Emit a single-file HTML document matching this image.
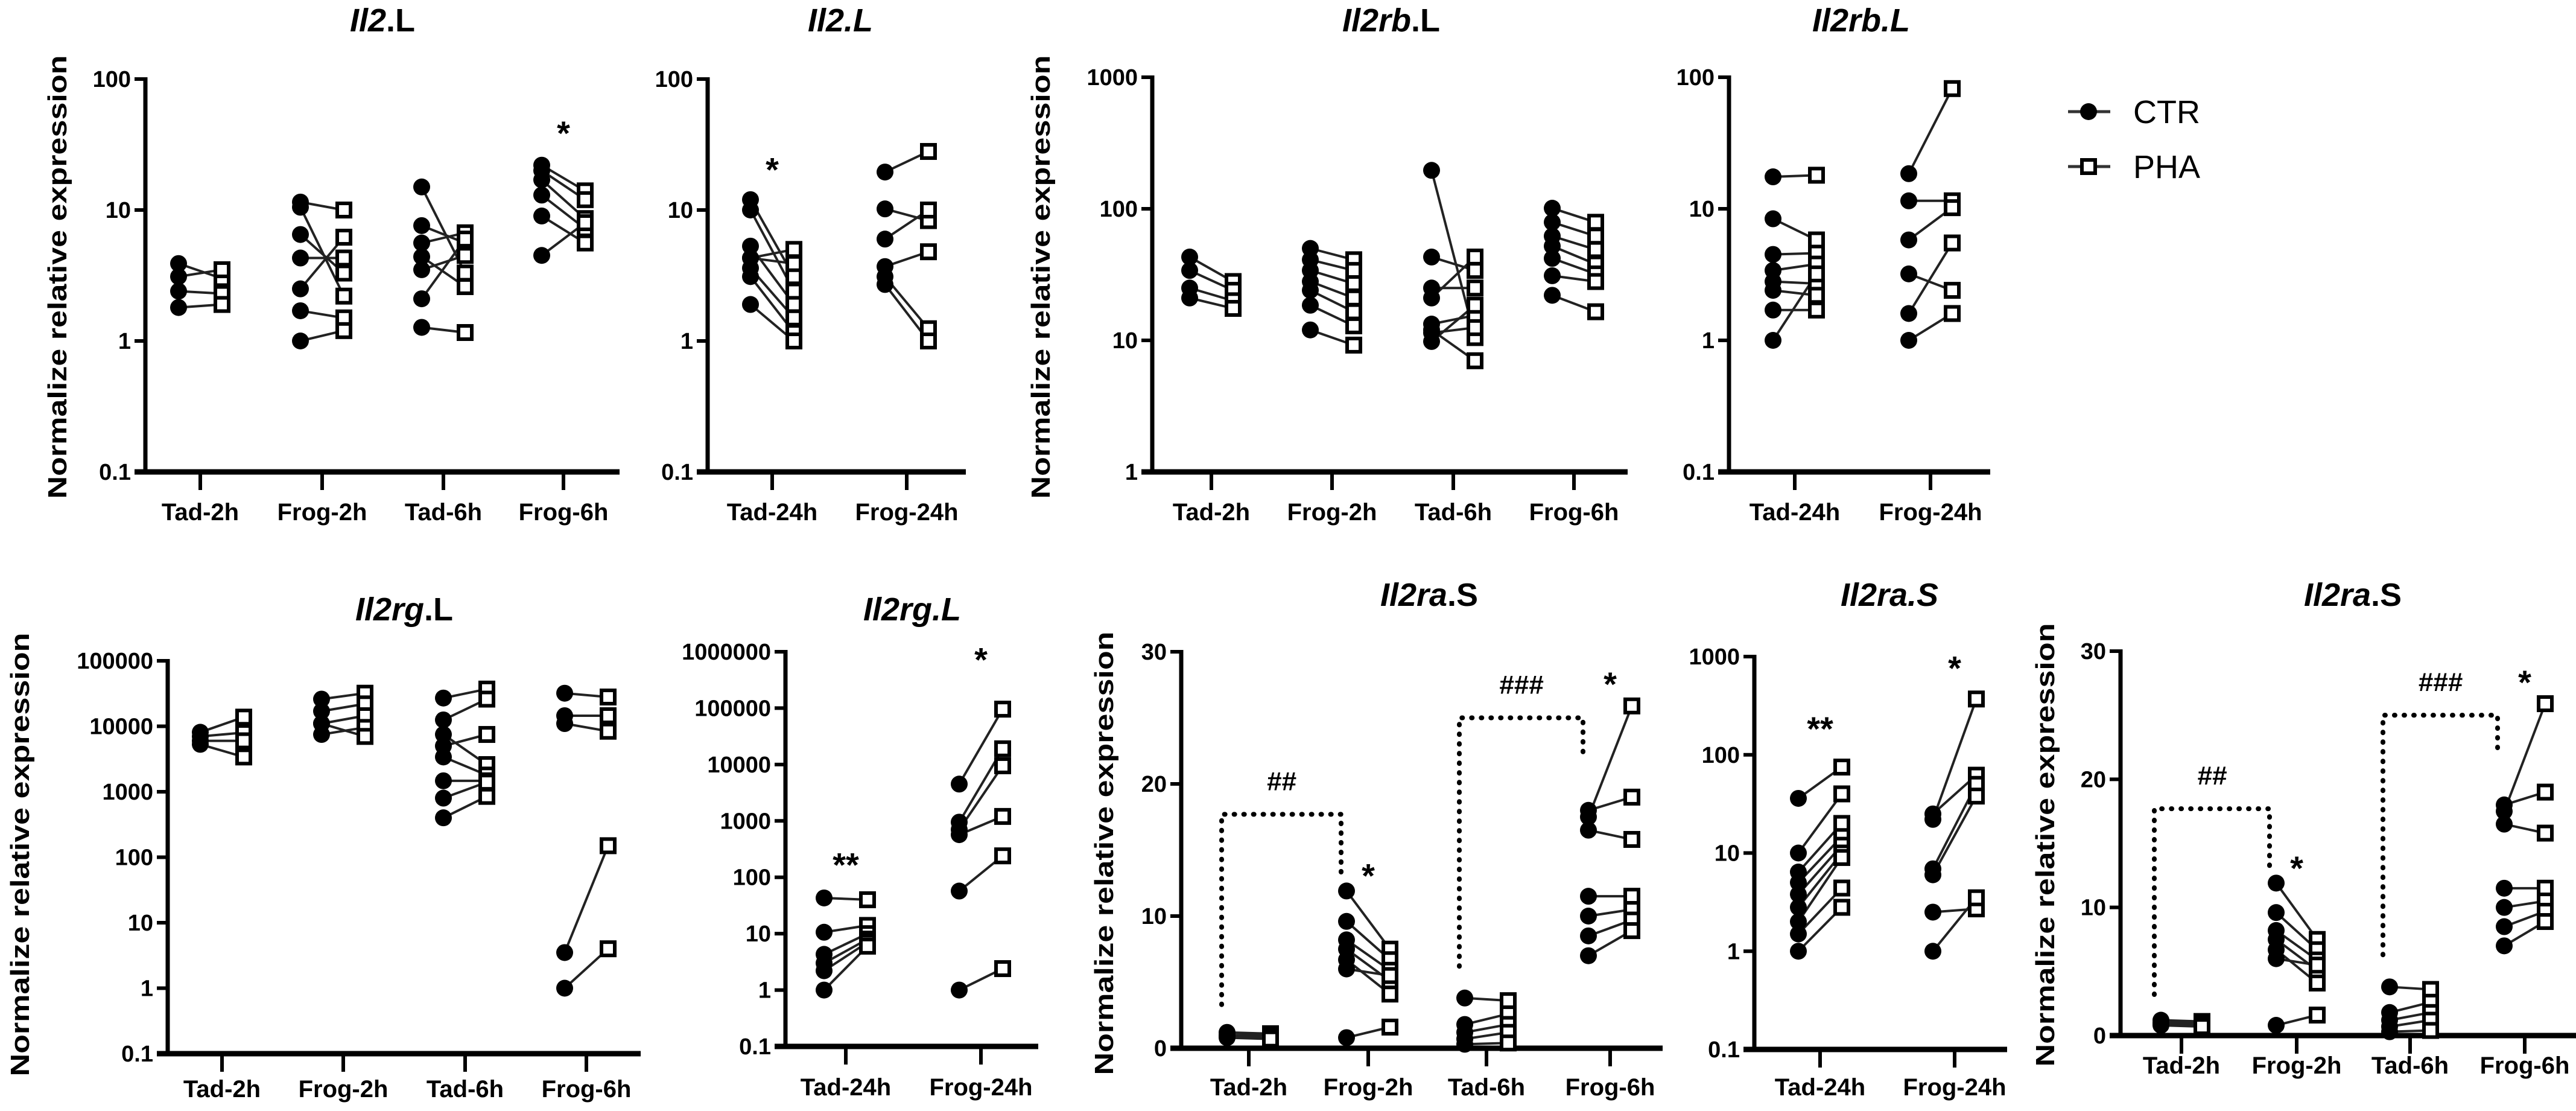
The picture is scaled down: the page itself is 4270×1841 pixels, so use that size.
<!DOCTYPE html>
<html><head><meta charset="utf-8"><style>
html,body{margin:0;padding:0;background:#fff;}
svg{display:block;font-family:"Liberation Sans",Arial,sans-serif;}
</style></head><body>
<svg id="fig" xmlns="http://www.w3.org/2000/svg" width="4270" height="1841" viewBox="0 0 4270 1841"></svg>
<script>
// ---- data arrays (paired CTR -> PHA values per group) ----
const cats4 = ["Tad-2h","Frog-2h","Tad-6h","Frog-6h"];
const cats2 = ["Tad-24h","Frog-24h"];

const p1Ctr = [[3.9,3.1,2.4,1.8],[11.5,10.5,6.5,4.3,2.5,1.7,1.0],[15,7.6,5.6,4.4,3.5,2.1,1.27],[22,20,17,13,9,4.5]];
const p1Pha = [[3.0,3.5,2.3,1.9],[10,2.2,3.3,4.3,6.2,1.5,1.2],[3.3,5.6,6.7,2.6,4.5,6.0,1.16],[14,12,8.6,7.2,5.6,8]];

const p2Ctr = [[12,10,5.3,4.3,3.6,3.1,1.9,4.3],[19.5,10.2,6,3.7,3.1,2.7]];
const p2Pha = [[3.1,2.4,1.9,3.9,1.5,1.16,1.0,5],[28,8.3,10,4.8,1.24,1.0]];

const p3Ctr = [[43,34,25,21],[50,41,34,28,24,18.5,12],[196,43,25,21,13.3,11.4,9.8,12],[101,79,62,52,42,31,22]];
const p3Pha = [[28,24,20,17.5],[41,34,27,21,16.5,12.9,9.2],[10.5,34,25,43,15.5,12.5,18.5,7],[79,62,49,38,32,28,16.5]];

const p4Ctr = [[17.5,8.4,4.5,3.4,2.8,2.4,1.7,1.0],[18.5,11.5,5.8,3.2,1.6,1.0]];
const p4Pha = [[18,5.8,4.6,3.8,2.7,2.2,1.7,3.2],[82,11.5,10.2,2.4,5.5,1.6]];

const p5Ctr = [[8100,7000,6000,5300],[26000,17000,11000,7500,11000],[27000,12500,7500,5000,3400,1470,800,400],[32000,14500,11000,3.5,1]];
const p5Pha = [[13800,8000,6000,3400],[32000,22000,14500,9600,7000],[37000,26000,2600,7500,1800,1470,1400,850],[28000,14500,8400,150,4]];

const p6Ctr = [[43,10.6,4.3,3,2.2,1],[4500,950,700,570,57,1]];
const p6Pha = [[40,14,10,8,7,6],[96000,19000,9500,1200,240,2.4]];

const p7Ctr = [[1.2,1.0,0.9,0.8],[11.9,9.6,8.2,7.5,6.7,6.0,0.8],[3.8,1.8,1.2,0.7,0.3],[17.5,18,16.5,11.5,10,8.5,7]];
const p7Pha = [[1.1,1.0,0.8,0.7],[7.5,6.7,5.9,5.1,4.1,5.5,1.6],[3.6,2.6,1.8,1.2,0.4],[25.9,19,15.8,11.5,10.5,9.7,8.9]];

const p8Ctr = [[36,10,6.4,5,3.8,2.8,2,1.5,1],[22,25,6.9,6,2.5,1.0]];
const p8Pha = [[75,40,20,14.7,12,10,9,4.4,2.8],[370,62,50,38,2.7,3.5]];

const p9Ctr = p7Ctr;
const p9Pha = p7Pha;

const ticksLog1 = [0.1,1,10,100];
const ticksLog3 = [1,10,100,1000];
const ticksLog5 = [0.1,1,10,100,1000,10000,100000];
const ticksLog6 = [0.1,1,10,100,1000,10000,100000,1000000];
const ticksLog8 = [0.1,1,10,100,1000];
const ticksLin = [0,10,20,30];

const NS = "http://www.w3.org/2000/svg";
const svg = document.getElementById("fig");
function el(tag, attrs, parent){
  const e = document.createElementNS(NS, tag);
  for (const k in attrs) e.setAttribute(k, attrs[k]);
  (parent||svg).appendChild(e);
  return e;
}
function fmt(v){ return String(v); }

function panel(cfg){
  const g = el("g", {});
  
  
  const lo = cfg.log ? Math.log10(cfg.min) : cfg.min;
  const hi = cfg.log ? Math.log10(cfg.max) : cfg.max;
  const yS = v => {
    const t = cfg.log ? Math.log10(v) : v;
    return cfg.y1 - (t - lo) / (hi - lo) * (cfg.y1 - cfg.y0);
  };
  const t = el("text", {x: cfg.titleX, y: cfg.titleY, "text-anchor":"middle", "font-size":54, "font-weight":"bold"}, g);
  
  
  const s1 = el("tspan", {"font-style":"italic"}, t); s1.textContent = cfg.titleIt;
  const s2 = el("tspan", {"font-style": cfg.allItalic ? "italic" : "normal"}, t); s2.textContent = cfg.titleSuf;
  if (cfg.ylabX) {
    const yl = el("text", {x:0, y:0, transform:`translate(${cfg.ylabX},${cfg.ylabY}) rotate(-90)`, "text-anchor":"middle", "font-size":44, "font-weight":"bold", textLength:735, lengthAdjust:"spacingAndGlyphs"}, g);
    
    
    yl.textContent = "Normalize relative expression";
  }
  const ya = el("line", {x1:cfg.ax, y1:cfg.y0-3, x2:cfg.ax, y2:cfg.y1, stroke:"#000", "stroke-width":7}, g);
  
  
  const xa = el("line", {x1:cfg.ax-18, y1:cfg.y1, x2:cfg.xEnd, y2:cfg.y1, stroke:"#000", "stroke-width":9}, g);
  
  
  cfg.ticks.forEach(v => {
    const y = yS(v);
    el("line", {x1:cfg.ax-18, y1:y, x2:cfg.ax, y2:y, stroke:"#000", "stroke-width":6}, g);
    const tl = el("text", {x:cfg.ax-24, y:y+13, "text-anchor":"end", "font-size":38, "font-weight":"bold"}, g);
    
    
    tl.textContent = fmt(v);
  });
  cfg.cats.forEach((c, i) => {
    const x = cfg.tx[i];
    el("line", {x1:x, y1:cfg.y1, x2:x, y2:cfg.y1+30, stroke:"#000", "stroke-width":6}, g);
    const xl = el("text", {x:x, y:cfg.xlabY, "text-anchor":"middle", "font-size":40, "font-weight":"bold"}, g);
    
    
    xl.textContent = c;
  });
  (cfg.brackets||[]).forEach(b => {
    const xa1 = cfg.tx[b.i] - 45, xb = cfg.tx[b.j] - 45;
    const yt = yS(b.top);
    const p = el("path", {d:`M${xa1},${yS(b.l)} L${xa1},${yt} L${xb},${yt} L${xb},${yS(b.r)}`, fill:"none", stroke:"#000", "stroke-width":8, "stroke-dasharray":"1 15", "stroke-linecap":"round"}, g);
    
    
    const bt = el("text", {x:(xa1+xb)/2, y:yt-40, "text-anchor":"middle", "font-size":44, "font-weight":"bold", "font-style":"italic"}, g);
    
    
    bt.textContent = b.label;
  });
  (cfg.stars||[]).forEach(s => {
    const st = el("text", {x:cfg.tx[s.i], y:yS(s.v)+18, "text-anchor":"middle", "font-size":56, "font-weight":"bold"}, g);
    
    
    st.textContent = s.label;
  });
  cfg.ctr.forEach((grp, gi) => {
    const xc = cfg.tx[gi] - cfg.dx, xp = cfg.tx[gi] + cfg.dx;
    grp.forEach((v, k) => {
      const pv = cfg.pha[gi][k];
      const ln = el("line", {x1:xc, y1:yS(v), x2:xp, y2:yS(pv), stroke:"#222", "stroke-width":4}, g);
      
      
    });
    grp.forEach((v) => {
      const c = el("circle", {cx:xc, cy:yS(v), r:14, fill:"#000"}, g);
      
      
    });
    cfg.pha[gi].forEach((v) => {
      const r = el("rect", {x:xp-11, y:yS(v)-11, width:22, height:22, fill:"#fff", stroke:"#000", "stroke-width":6}, g);
      
      
    });
  });
}

panel({name:"panel-il2-L", titleIt:"Il2", titleSuf:".L", titleX:634, titleY:52, ylabX:110, ylabY:459,
  ax:241, xEnd:1027, y0:131, y1:782, log:true, min:0.1, max:100, ticks:ticksLog1,
  cats:cats4, tx:[332,534,735,934], xlabY:862, dx:36, ctr:p1Ctr, pha:p1Pha,
  stars:[{i:3, v:38, label:"*"}]});
panel({name:"panel-il2-L-24h", titleIt:"Il2.L", titleSuf:"", allItalic:true, titleX:1393, titleY:52,
  ax:1173, xEnd:1601, y0:131, y1:782, log:true, min:0.1, max:100, ticks:ticksLog1,
  cats:cats2, tx:[1280,1503], xlabY:862, dx:36, ctr:p2Ctr, pha:p2Pha,
  stars:[{i:0, v:20, label:"*"}]});
panel({name:"panel-il2rb-L", titleIt:"Il2rb", titleSuf:".L", titleX:2306, titleY:52, ylabX:1740, ylabY:459,
  ax:1910, xEnd:2698, y0:128, y1:782, log:true, min:1, max:1000, ticks:ticksLog3,
  cats:cats4, tx:[2008,2208,2409,2609], xlabY:862, dx:36, ctr:p3Ctr, pha:p3Pha});
panel({name:"panel-il2rb-L-24h", titleIt:"Il2rb.L", titleSuf:"", allItalic:true, titleX:3085, titleY:52,
  ax:2866, xEnd:3299, y0:128, y1:782, log:true, min:0.1, max:100, ticks:ticksLog1,
  cats:cats2, tx:[2975,3200], xlabY:862, dx:36, ctr:p4Ctr, pha:p4Pha});
panel({name:"panel-il2rg-L", titleIt:"Il2rg", titleSuf:".L", titleX:670, titleY:1028, ylabX:48, ylabY:1416,
  ax:278, xEnd:1062, y0:1095, y1:1746, log:true, min:0.1, max:100000, ticks:ticksLog5,
  cats:cats4, tx:[368,569,771,972], xlabY:1818, dx:36, ctr:p5Ctr, pha:p5Pha});
panel({name:"panel-il2rg-L-24h", titleIt:"Il2rg.L", titleSuf:"", allItalic:true, titleX:1512, titleY:1028,
  ax:1302, xEnd:1721, y0:1080, y1:1734, log:true, min:0.1, max:1000000, ticks:ticksLog6,
  cats:cats2, tx:[1402,1626], xlabY:1815, dx:36, ctr:p6Ctr, pha:p6Pha,
  stars:[{i:0, v:160, label:"**"},{i:1, v:700000, label:"*"}]});
panel({name:"panel-il2ra-S", titleIt:"Il2ra", titleSuf:".S", titleX:2369, titleY:1004, ylabX:1845, ylabY:1414,
  ax:1958, xEnd:2756, y0:1080, y1:1737, log:false, min:0, max:30, ticks:ticksLin,
  cats:cats4, tx:[2070,2268,2464,2669], xlabY:1815, dx:36, ctr:p7Ctr, pha:p7Pha,
  brackets:[{i:0,j:1,top:17.7,l:3.3,r:13.3,label:"##"},{i:2,j:3,top:25,l:6.2,r:22.2,label:"###"}],
  stars:[{i:1, v:13, label:"*"},{i:3, v:27.5, label:"*"}]});
panel({name:"panel-il2ra-S-24h", titleIt:"Il2ra.S", titleSuf:"", allItalic:true, titleX:3132, titleY:1004,
  ax:2908, xEnd:3327, y0:1088, y1:1739, log:true, min:0.1, max:1000, ticks:ticksLog8,
  cats:cats2, tx:[3017,3240], xlabY:1815, dx:36, ctr:p8Ctr, pha:p8Pha,
  stars:[{i:0, v:180, label:"**"},{i:1, v:750, label:"*"}]});
panel({name:"panel-il2ra-S-repeat", titleIt:"Il2ra", titleSuf:".S", titleX:3900, titleY:1004, ylabX:3405, ylabY:1400,
  ax:3515, xEnd:4270, y0:1079, y1:1716, log:false, min:0, max:30, ticks:ticksLin,
  cats:cats4, tx:[3616,3807,3995,4185], xlabY:1779, dx:34, ctr:p9Ctr, pha:p9Pha,
  brackets:[{i:0,j:1,top:17.7,l:3.2,r:13.1,label:"##"},{i:2,j:3,top:25,l:6.3,r:22.2,label:"###"}],
  stars:[{i:1, v:13, label:"*"},{i:3, v:27.5, label:"*"}]});

const lg = el("g", {});


const le1 = el("g", {}, lg);


el("line", {x1:3428, y1:185, x2:3498, y2:185, stroke:"#333", "stroke-width":5}, le1);
el("circle", {cx:3462, cy:185, r:14, fill:"#000"}, le1);
const lt1 = el("text", {x:3536, y:204, "font-size":54}, le1); lt1.textContent = "CTR";
const le2 = el("g", {}, lg);


el("line", {x1:3428, y1:276, x2:3498, y2:276, stroke:"#333", "stroke-width":5}, le2);
el("rect", {x:3451, y:265, width:22, height:22, fill:"#fff", stroke:"#000", "stroke-width":6}, le2);
const lt2 = el("text", {x:3536, y:295, "font-size":54}, le2); lt2.textContent = "PHA";
</script>
</body></html>
